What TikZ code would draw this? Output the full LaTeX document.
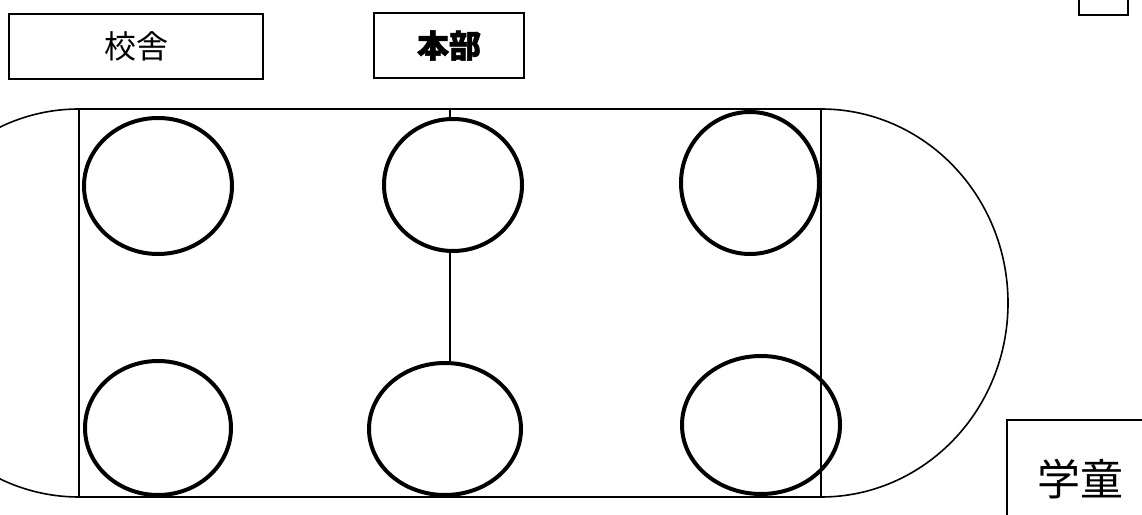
\documentclass[tikz,border=0pt]{standalone}
\usepackage{fontspec}
\newfontfamily\jpfont{Noto Sans CJK JP}
\usetikzlibrary{shapes.geometric}

\tikzset{
  line/.style={line width=1.6pt},
  seat/.style={draw, ellipse, line width=4pt, inner sep=0pt},
  bldg/.style={draw, line width=1.6pt, inner sep=0pt,
    font=\jpfont\fontsize{32}{36}\selectfont},
}

\begin{document}
\begin{tikzpicture}[x=1pt, y=1pt]
    \useasboundingbox (0,0) rectangle (1142,514);

    % field
    \begin{scope}
      \clip (0,0) rectangle (1142,514);
      \draw[line] (79,405) -- (821,405)
        arc[start angle=90, end angle=-90, x radius=187, y radius=194]
        -- (79,17)
        arc[start angle=270, end angle=90, x radius=187, y radius=194];
    \end{scope}
    \draw[line] (79,405) -- (79,17);
    \draw[line] (821,405) -- (821,17);

    % seats
    \foreach \n/\x/\y/\w/\h in {1/158/328/148/136, 2/453/329/138/132, 3/750/331/138/142,
                                4/158/86/146/134, 5/445/85/152/132, 6/761/89/158/138} {
      \node[seat, minimum width=\w pt, minimum height=\h pt] (seat\n) at (\x,\y) {};
    }

    % centre line
    \coordinate (mtop) at (450,405);
    \draw[line] (mtop) -- (mtop |- seat2.north);
    \draw[line] (seat2.south -| mtop) -- (seat5.north -| mtop);

    % buildings
    \node[bldg, minimum width=254pt, minimum height=65pt] (kousha) at (136,467.5) {校舎};
    \node[bldg, minimum width=150pt, minimum height=65pt] (honbu) at (449,468.5)
      {\bfseries\addfontfeature{FakeBold=1.6}本部};
    \node[bldg, minimum width=49pt, minimum height=60pt] (corner) at (1103.5,529) {};
    \node[bldg, minimum width=146pt, minimum height=118pt,
          font=\jpfont\fontsize{43}{46}\selectfont] (gakudou) at (1080,35) {学童};

\end{tikzpicture}
\end{document}
